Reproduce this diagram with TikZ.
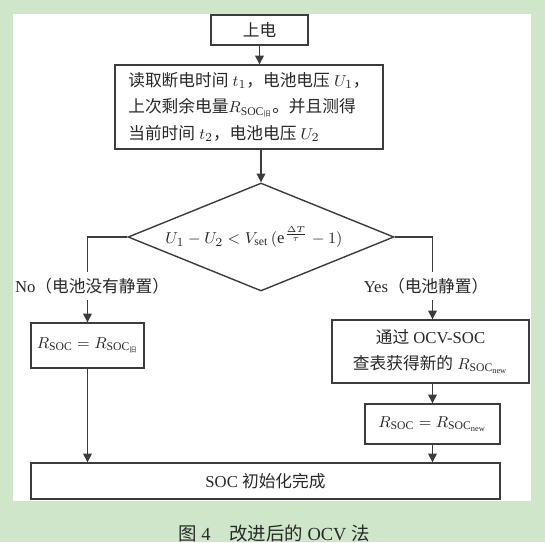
\documentclass[tikz,border=0pt]{standalone}
\usepackage{fontspec}
\setmainfont{Liberation Serif}
\newfontfamily\cjk{Noto Sans CJK SC}
\usetikzlibrary{shapes.geometric,arrows.meta}
\newcommand{\zh}[1]{{\cjk #1}}

\begin{document}
\begin{tikzpicture}[x=0.02cm, y=0.02cm,
    box/.style={draw=lineC, line width=0.8pt, fill=white, text=textC, inner sep=0pt, font=\fontsize{9.5}{15}\selectfont},
    decision/.style={box, diamond},
    flow/.style={draw=lineC, line width=0.8pt, -{Triangle[length=5pt,width=5pt]}},
    link/.style={draw=lineC, line width=0.8pt},
    tag/.style={text=textC, font=\fontsize{9.5}{12}\selectfont}]

    % Couleurs
    \definecolor{bgC}{RGB}{207,230,202}
    \definecolor{lineC}{RGB}{60,60,60}
    \definecolor{textC}{RGB}{40,40,40}

    % Fond
    \useasboundingbox (0,0) rectangle (545,542);
    \fill[bgC] (0,0) rectangle (545,542);
    \fill[white] (13,41) rectangle (531,528);

    % Debut et lecture
    \node[box, minimum width=1.94cm, minimum height=0.6cm] (start) at (259.5,512) {\zh{上电}};
    \node[box, minimum width=5.36cm, minimum height=1.68cm, align=left] (read) at (249,435)
        {\zh{读取断电时间} $t_1$\zh{，电池电压} $U_1$\zh{，}\\
         \zh{上次剩余电量}$R_{\mathrm{SOC}_{\mbox{\cjk\fontsize{4}{4}\selectfont 旧}}}$\zh{。并且测得}\\
         \zh{当前时间} $t_2$\zh{，电池电压} $U_2$};

    % Test
    \node[decision, minimum width=5.32cm, minimum height=2.16cm] (check) at (261,305) {};
    \node[text=textC, font=\fontsize{9.5}{12}\selectfont] (cond) at (254,305)
        {$U_1 - U_2 < V_{\mathrm{set}}\,(\mathrm{e}^{\frac{\Delta T}{\tau}} - 1)$};

    % Branches
    \node[tag] (no) at (92,256) {No\zh{（电池没有静置）}};
    \node[tag] (yes) at (426,256) {Yes\zh{（电池静置）}};

    \node[box, minimum width=2.26cm, minimum height=0.9cm] (keepold) at (87.5,196.5)
        {$R_{\mathrm{SOC}} = R_{\mathrm{SOC}_{\mbox{\cjk\fontsize{4}{4}\selectfont 旧}}}$};
    \node[box, minimum width=3.94cm, minimum height=1.26cm, align=center, font=\fontsize{9.5}{14.7}\selectfont] (lookup) at (430.5,190.5)
        {\zh{通过} OCV-SOC\\ \zh{查表获得新的} $R_{\mathrm{SOC}_{\mathrm{new}}}$};
    \node[box, minimum width=2.7cm, minimum height=0.8cm] (setnew) at (432.5,118)
        {$R_{\mathrm{SOC}} = R_{\mathrm{SOC}_{\mathrm{new}}}$};

    % Fin
    \node[box, minimum width=9.38cm, minimum height=0.72cm] (done) at (265.5,61) {SOC \zh{初始化完成}};

    % Liaisons
    \draw[flow] (start.south) -- (start.south |- read.north);
    \draw[flow] (check.north |- read.south) -- (check.north);
    \draw[link] (check.west) -| (keepold.north |- no.north);
    \draw[link] (check.east) -| (setnew.north |- yes.north);
    \draw[flow] (keepold.north |- no.south) -- (keepold.north);
    \draw[flow] (setnew.north |- yes.south) -- (setnew.north |- lookup.north);
    \draw[flow] (setnew.north |- lookup.south) -- (setnew.north);
    \draw[flow] (keepold.south) -- (keepold.south |- done.north);
    \draw[flow] (setnew.south) -- (setnew.south |- done.north);

    % Legende
    \node[tag, font=\fontsize{10.5}{12}\selectfont] (caption) at (274,9) {\zh{图} 4\quad\zh{改进后的} OCV \zh{法}};

\end{tikzpicture}
\end{document}
